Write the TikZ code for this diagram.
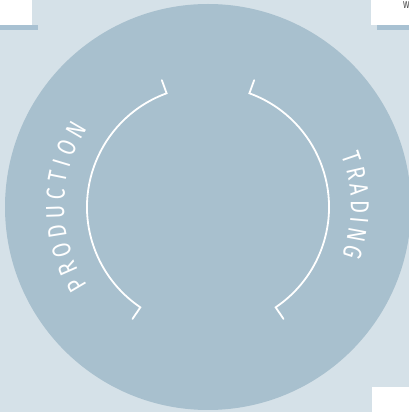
\documentclass[tikz,border=0pt]{standalone}
\usepackage{fontspec}
\newfontfamily\labfont[FakeStretch=0.78]{Fira Sans}
\newcommand\ringfont{\labfont\fontsize{26}{26}\selectfont}
\usetikzlibrary{decorations.text}
\definecolor{bgc}{HTML}{D5E1E8}
\definecolor{disc}{HTML}{A8C0CE}
\definecolor{barc}{HTML}{A8C1D2}
\begin{document}
\begin{tikzpicture}[x=1pt,y=1pt,
  arcline/.style={draw=white,line width=1.8pt,line cap=round,line join=miter},
  ringtext/.style={decorate,decoration={text along path,text color=white,text align={fit to path},text={|\ringfont|#1}}}]
\useasboundingbox (0,0) rectangle (409,412);
\clip (0,0) rectangle (409,412);
\fill[bgc] (0,0) rectangle (409,412);
\coordinate (c) at (208,205);
\fill[disc] (c) circle (203pt);
% corner panels
\fill[barc] (0,382) rectangle (38,387);
\fill[white] (0,387) rectangle (32,412);
\fill[barc] (377,382) rectangle (409,387);
\fill[white] (371,387) rectangle (409,412);
\fill[white] (372,0) rectangle (409,25);
\node (w) [anchor=north west, inner sep=0pt, font=\labfont\fontsize{10}{10}\selectfont, text=black!75] at (403,411) {W};
% bracket arcs
\draw[arcline] ([shift={(110:135pt)}]c) -- ([shift={(110:121pt)}]c) arc[start angle=110,end angle=236,radius=121pt] -- ([shift={(236:135pt)}]c);
\draw[arcline] ([shift={(70:135pt)}]c) -- ([shift={(70:121pt)}]c) arc[start angle=70,end angle=-56,radius=121pt] -- ([shift={(-56:135pt)}]c);
% curved labels
{\ringfont
\path[ringtext=PRODUCTION] ([shift={(213:144pt)}]c) arc[start angle=213,end angle=147,radius=144pt];
\path[ringtext=TRADING] ([shift={(21:143pt)}]c) arc[start angle=21,end angle=-20,radius=143pt];
}
\end{tikzpicture}
\end{document}
